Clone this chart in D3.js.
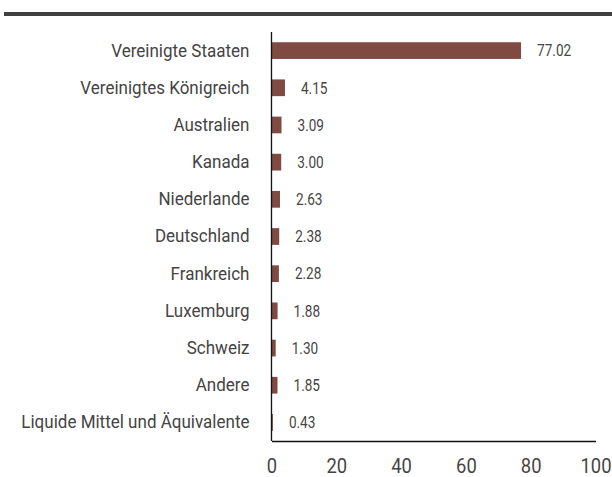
<!DOCTYPE html>
<meta charset="utf-8">
<script src="https://d3js.org/d3.v7.min.js"></script>
<style>
  body { margin: 0; background: #fff; }
  text { font-family: Roboto, "Liberation Sans", sans-serif; }
</style>
<div id="chart"></div>
<script>
// data
var countries = ["Vereinigte Staaten", "Vereinigtes Königreich", "Australien", "Kanada",
  "Niederlande", "Deutschland", "Frankreich", "Luxemburg", "Schweiz", "Andere",
  "Liquide Mittel und Äquivalente"];
var weights = [77.02, 4.15, 3.09, 3.00, 2.63, 2.38, 2.28, 1.88, 1.30, 1.85, 0.43];
var xTicks = [0, 20, 40, 60, 80, 100];

var width = 612, height = 477;
// no narrow font installed, so squeeze the text a bit
var squeeze = "scale(0.92,1)";

var svg = d3.select("#chart")
  .append("svg")
    .attr("width", width)
    .attr("height", height);

// dark rule along the top
svg.append("rect")
  .attr("x", 4)
  .attr("y", 12)
  .attr("width", width - 4)
  .attr("height", 4)
  .attr("fill", "#404040");

// scales
var x = d3.scaleLinear()
  .domain([0, 100])
  .range([271.5, 595.5]);

var y = d3.scaleBand()
  .domain(countries)
  .range([32, 441])
  .paddingInner(0.55)
  .paddingOuter(0.275);

// bars
svg.selectAll("rect.bar")
  .data(weights)
  .enter()
  .append("rect")
    .attr("class", "bar")
    .attr("x", x(0))
    .attr("y", function(d, i) { return y(countries[i]); })
    .attr("width", function(d) { return x(d) - x(0); })
    .attr("height", y.bandwidth())
    .attr("fill", "#804a43");

// value labels
svg.selectAll("text.val")
  .data(weights)
  .enter()
  .append("text")
    .attr("class", "val")
    .attr("transform", function(d, i) {
      return "translate(" + (x(d) + 16) + "," + (y(countries[i]) + y.bandwidth() / 2) + ")scale(0.85,1)";
    })
    .attr("dy", "0.36em")
    .style("font-size", "16px")
    .attr("fill", "#454545")
    .text(function(d) { return d.toFixed(2); });

// category labels
svg.append("g")
  .attr("transform", "translate(" + (x(0) - 22) + ",0)")
  .call(d3.axisLeft(y).tickSize(0).tickPadding(0))
  .call(function(g) { g.select(".domain").remove(); })
  .selectAll("text")
    .attr("x", 0)
    .attr("transform", squeeze)
    .style("font-family", "Roboto")
    .style("font-size", "18.5px")
    .attr("fill", "#444");

// y axis line
svg.append("line")
  .attr("x1", x(0)).attr("x2", x(0))
  .attr("y1", 32).attr("y2", 441)
  .attr("stroke", "#111")
  .attr("stroke-width", 1.3);

// x axis
svg.append("g")
  .attr("transform", "translate(0,441)")
  .call(d3.axisBottom(x).tickValues(xTicks).tickSize(0).tickPadding(18))
  .call(function(g) {
    g.select(".domain").attr("stroke", "#111").attr("stroke-width", 1.3);
  })
  .selectAll("text")
    .attr("transform", "scale(0.92,1)")
    .style("font-family", "Roboto")
    .style("font-size", "20px")
    .attr("fill", "#454545");
</script>
